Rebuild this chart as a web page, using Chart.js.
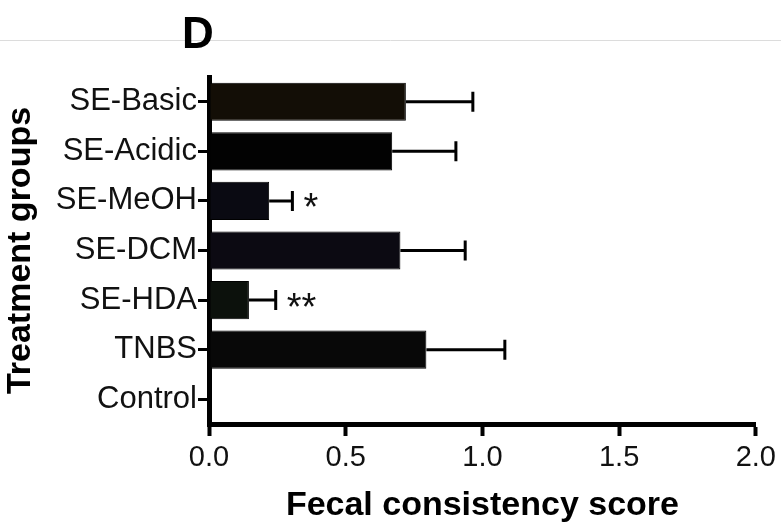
<!DOCTYPE html>
<html>
<head>
<meta charset="utf-8">
<script src="https://cdn.jsdelivr.net/npm/chart.js@4.4.1/dist/chart.umd.min.js"></script>
<style>
  body { margin: 0; background: #fff; }
  #wrap { width: 781px; height: 526px; position: relative; }
</style>
</head>
<body>
<div id="wrap"><canvas id="barChart"></canvas></div>
<script>
// data
var groups = ['SE-Basic', 'SE-Acidic', 'SE-MeOH', 'SE-DCM', 'SE-HDA', 'TNBS', 'Control'];
var means = [0.72, 0.67, 0.22, 0.70, 0.146, 0.795, 0];
var sem = [0.245, 0.233, 0.085, 0.237, 0.098, 0.287, 0];
var stars = ['', '', '*', '', '**', '', ''];
var xTicks = [0, 0.5, 1.0, 1.5, 2.0];

var fontName = '"Liberation Sans", Arial, Helvetica, sans-serif';

// error bars + significance stars
var errorBars = {
    id: 'errorBars',
    afterDatasetsDraw: function (chart) {
        var ctx = chart.ctx;
        var xs = chart.scales.x;
        var meta = chart.getDatasetMeta(0);
        ctx.save();
        ctx.strokeStyle = '#000';
        ctx.lineWidth = 3;
        for (var i = 0; i < means.length; i++) {
            if (!sem[i]) continue;
            var y = meta.data[i].y;
            var x0 = xs.getPixelForValue(means[i]);
            var x1 = xs.getPixelForValue(means[i] + sem[i]);
            ctx.beginPath();
            ctx.moveTo(x0, y);
            ctx.lineTo(x1, y);
            ctx.moveTo(x1, y - 10);
            ctx.lineTo(x1, y + 10);
            ctx.stroke();
            if (stars[i]) {
                ctx.fillStyle = '#111';
                ctx.font = '38px ' + fontName;
                ctx.textAlign = 'left';
                ctx.textBaseline = 'middle';
                ctx.fillText(stars[i], x1 + 11, y + 9);
            }
        }
        ctx.restore();
    }
};

// panel letter and the faint rule behind it
var panelLabel = {
    id: 'panelLabel',
    beforeDraw: function (chart) {
        var ctx = chart.ctx;
        ctx.save();
        ctx.fillStyle = '#fff';
        ctx.fillRect(0, 0, chart.width, chart.height);
        ctx.strokeStyle = '#dcdcdc';
        ctx.lineWidth = 1;
        ctx.beginPath();
        ctx.moveTo(0, 40.5);
        ctx.lineTo(chart.width, 40.5);
        ctx.stroke();
        ctx.restore();
    },
    afterDraw: function (chart) {
        var ctx = chart.ctx;
        ctx.save();
        ctx.fillStyle = '#000';
        ctx.font = 'bold 44px ' + fontName;
        ctx.textAlign = 'center';
        ctx.textBaseline = 'alphabetic';
        ctx.fillText('D', 198, 48);
        ctx.restore();
    }
};

const ctx = document.getElementById('barChart').getContext('2d');
new Chart(ctx, {
    type: 'bar',
    data: {
        labels: groups,
        datasets: [{
            data: means,
            backgroundColor: ['#130e06', '#020202', '#0a0a12', '#0c0a12', '#0c110c', '#080808', '#000'],
            borderColor: '#000',
            borderWidth: 1,
            borderSkipped: false,
            barPercentage: 0.77,
            categoryPercentage: 1.0
        }]
    },
    options: {
        indexAxis: 'y',
        responsive: true,
        maintainAspectRatio: false,
        animation: false,
        layout: { padding: { top: 77, right: 23, left: 0, bottom: 0 } },
        plugins: {
            legend: { display: false },
            tooltip: { enabled: false }
        },
        scales: {
            x: {
                min: 0,
                max: 2,
                afterBuildTicks: function (s) {
                    s.ticks = xTicks.map(function (v) { return { value: v }; });
                },
                afterFit: function (s) { s.height = 102; },
                border: { color: '#000', width: 5 },
                grid: { drawOnChartArea: false, tickLength: 12, tickColor: '#000', tickWidth: 4 },
                ticks: {
                    color: '#111',
                    font: { family: fontName, size: 29 },
                    padding: 5,
                    maxRotation: 0,
                    callback: function (v) { return Number(v).toFixed(1); }
                },
                title: {
                    display: true,
                    text: 'Fecal consistency score',
                    color: '#000',
                    font: { family: fontName, size: 34, weight: 'bold' },
                    padding: { top: 6, bottom: 0 }
                }
            },
            y: {
                afterFit: function (s) { s.width = 209; },
                border: { color: '#000', width: 5 },
                grid: { drawOnChartArea: false, offset: false, tickLength: 11, tickColor: '#000', tickWidth: 3 },
                ticks: {
                    color: '#111',
                    font: { family: fontName, size: 31 },
                    padding: 1
                },
                title: {
                    display: true,
                    text: 'Treatment groups',
                    color: '#000',
                    font: { family: fontName, size: 34, weight: 'bold' },
                    padding: { top: 0, bottom: 0 }
                }
            }
        }
    },
    plugins: [panelLabel, errorBars]
});
</script>
</body>
</html>
